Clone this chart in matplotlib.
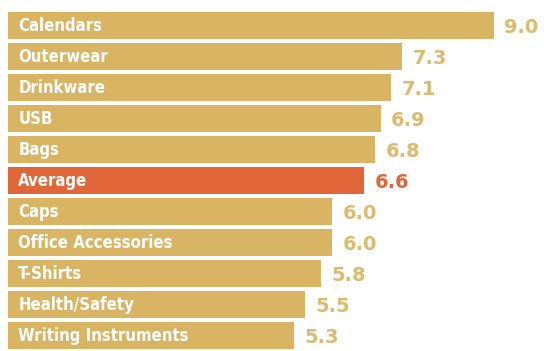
import matplotlib.pyplot as plt

categories = ['Calendars', 'Outerwear', 'Drinkware', 'USB', 'Bags', 'Average',
              'Caps', 'Office Accessories', 'T-Shirts', 'Health/Safety', 'Writing Instruments']
values = [9.0, 7.3, 7.1, 6.9, 6.8, 6.6, 6.0, 6.0, 5.8, 5.5, 5.3]
highlight = 'Average'

tan = '#d9b563'
tan_text = '#dcbb6e'
orange = '#e0673a'

fig = plt.figure(figsize=(5.44, 3.51), dpi=100)
ax = fig.add_axes([0, 0, 1, 1])

px = 54.0  # pixels per unit
ax.set_xlim(-8 / px, 536 / px)
ax.set_ylim(10.5, -0.823)

for i, (cat, v) in enumerate(zip(categories, values)):
    c = orange if cat == highlight else tan
    tc = orange if cat == highlight else tan_text
    ax.barh(i, v, height=0.84, color=c, edgecolor='none')
    ax.text(0.19, i + 0.03, cat, color='white', fontsize=12, fontweight='bold',
            family='DejaVu Sans', fontstretch='condensed', va='center', ha='left')
    ax.text(v + 0.19, i + 0.08, '%.1f' % v, color=tc, fontsize=14, fontweight='heavy',
            family='DejaVu Sans', va='center', ha='left')

ax.axis('off')
fig.savefig('out.png', dpi=100, facecolor='white')
